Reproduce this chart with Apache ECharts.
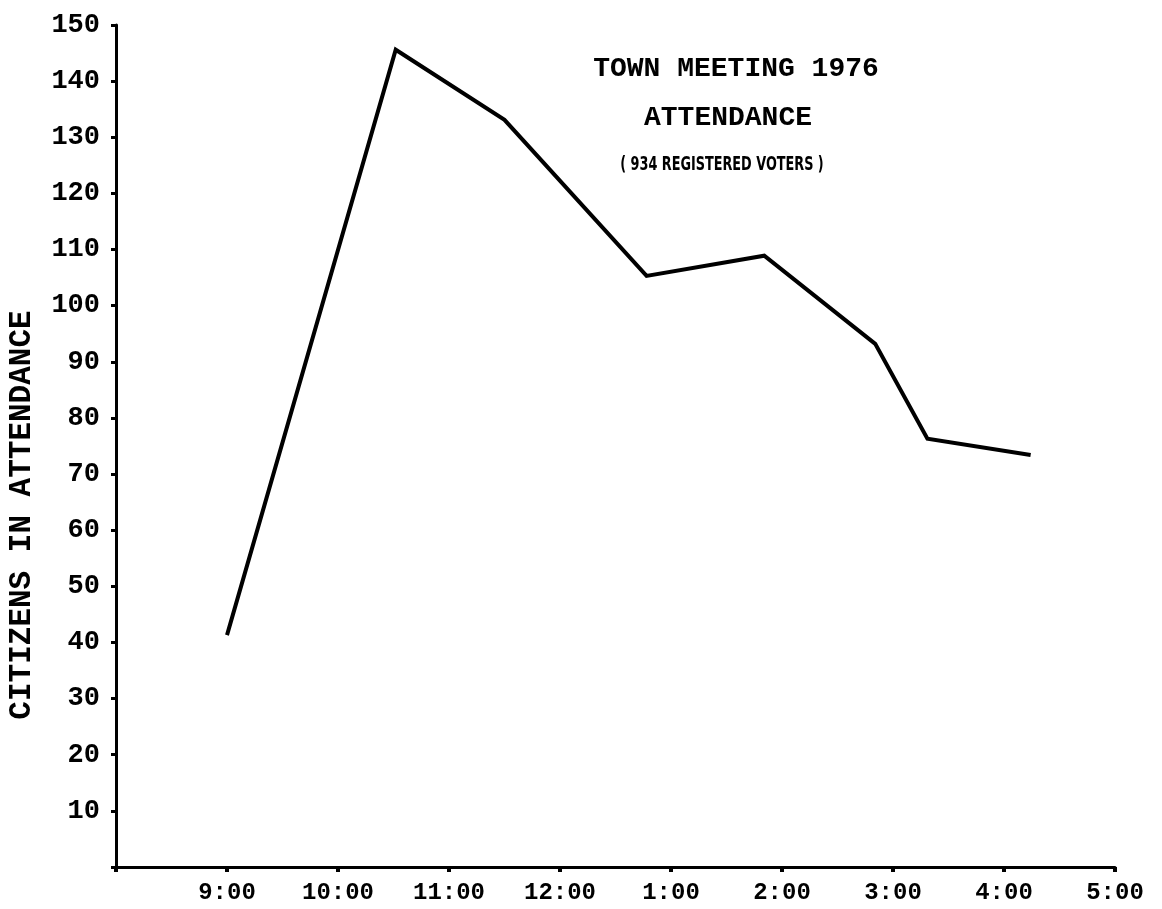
<!DOCTYPE html>
<html>
<head>
<meta charset="utf-8">
<script src="https://cdn.jsdelivr.net/npm/echarts@6/dist/echarts.min.js"></script>
<style>
html,body{margin:0;padding:0;background:#fff;}
#c{width:1162px;height:909px;}
</style>
</head>
<body>
<div id="c"></div>
<script>
// Times in hours (24h clock)
var times = [9.0, 10.52, 11.5, 12.78, 13.84, 14.84, 15.31, 16.24];
var attendance = [41.3, 145.6, 133.1, 105.3, 108.9, 93.2, 76.3, 73.4];
var xTickLabels = ['9:00', '10:00', '11:00', '12:00', '1:00', '2:00', '3:00', '4:00', '5:00'];
var yTickLabels = ['10', '20', '30', '40', '50', '60', '70', '80', '90', '100', '110', '120', '130', '140', '150'];

var mono = "'Liberation Mono', 'DejaVu Sans Mono', monospace";
var chart = echarts.init(document.getElementById('c'));
chart.setOption({
  backgroundColor: '#fff',
  animation: false,
  grid: {left: 116, right: 47, top: 25, bottom: 42},
  xAxis: {
    type: 'value', min: 8, max: 17, interval: 1,
    splitLine: {show: false},
    axisLine: {show: true, lineStyle: {color: '#000', width: 3}},
    axisTick: {show: true, length: 5, lineStyle: {color: '#000', width: 4}},
    axisLabel: {
      color: '#000', fontFamily: mono, fontWeight: 'bold', fontSize: 24, margin: 14,
      formatter: function (v) { var i = Math.round(v) - 9; return i >= 0 ? xTickLabels[i] : ''; }
    }
  },
  yAxis: {
    type: 'value', min: 0, max: 150, interval: 10,
    splitLine: {show: false},
    axisLine: {show: true, lineStyle: {color: '#000', width: 3}},
    axisTick: {show: true, length: 5, lineStyle: {color: '#000', width: 3}},
    axisLabel: {
      color: '#000', fontFamily: mono, fontWeight: 'bold', fontSize: 27, margin: 16,
      padding: [0, 0, 10, 0],
      formatter: function (v) { var i = Math.round(v / 10) - 1; return i >= 0 ? yTickLabels[i] : ''; }
    }
  },
  graphic: [
    {type: 'text', x: 736, y: 69, style: {text: 'TOWN MEETING 1976', fill: '#000', font: 'bold 28px ' + mono, textAlign: 'center', textVerticalAlign: 'middle'}},
    {type: 'text', x: 728, y: 118, style: {text: 'ATTENDANCE', fill: '#000', font: 'bold 28px ' + mono, textAlign: 'center', textVerticalAlign: 'middle'}},
    {type: 'text', x: 722, y: 165, scaleX: 0.75, style: {text: '( 934 REGISTERED VOTERS )', fill: '#000', font: "bold 19px 'Liberation Sans Narrow', 'DejaVu Sans Condensed', 'Roboto Condensed', 'Liberation Sans', sans-serif", textAlign: 'center', textVerticalAlign: 'middle'}},
    {type: 'text', x: 22, y: 515, rotation: Math.PI / 2, style: {text: 'CITIZENS IN ATTENDANCE', fill: '#000', font: 'bold 31px ' + mono, textAlign: 'center', textVerticalAlign: 'middle'}}
  ],
  series: [{
    type: 'line',
    data: times.map(function (t, i) { return [t, attendance[i]]; }),
    showSymbol: false,
    symbol: 'none',
    lineStyle: {color: '#000', width: 4, join: 'miter'}
  }]
});
</script>
</body>
</html>
